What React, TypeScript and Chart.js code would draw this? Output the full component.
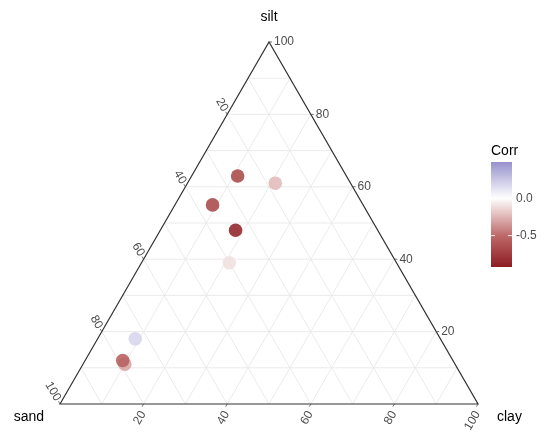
import React, { useEffect, useRef } from 'react';
import { Chart, registerables } from 'chart.js';

Chart.register(...registerables);

// Compositions (percent) and correlation value for each point
const sand = [26, 18, 36, 34, 40, 73, 79, 79];
const silt = [63, 61, 55, 48, 39, 18, 11, 12];
const clay = [11, 21, 9, 18, 21, 9, 10, 9];
const corr = [-0.66, -0.22, -0.66, -0.85, -0.1, 0.18, -0.3, -0.54];

const tickValues = [20, 40, 60, 80, 100];
const gridValues = [10, 20, 30, 40, 50, 60, 70, 80, 90];
const axisTitles = { left: 'sand', top: 'silt', right: 'clay' };

const legendTitle = 'Corr';
const legendBreaks = [0.0, -0.5];
const legendBreakLabels = ['0.0', '-0.5'];
const legendLimits = [-0.92, 0.485];

// colour scale stops (value, rgb)
const colourStopValues = [-0.92, -0.5, 0, 0.485];
const colourStopRgb = [
  [140, 28, 34],
  [190, 105, 105],
  [255, 255, 255],
  [150, 145, 205],
];

const FONT = "'Liberation Sans', Arial, Helvetica, sans-serif";

function colourFor(v: number, alpha = 1): string {
  const vs = colourStopValues;
  let i = 0;
  if (v <= vs[0]) i = 0;
  else if (v >= vs[vs.length - 1]) i = vs.length - 2;
  else {
    while (i < vs.length - 2 && v > vs[i + 1]) i++;
  }
  const t = Math.max(0, Math.min(1, (v - vs[i]) / (vs[i + 1] - vs[i])));
  const a = colourStopRgb[i];
  const b = colourStopRgb[i + 1];
  const c = a.map((x, k) => Math.round(x + (b[k] - x) * t));
  return `rgba(${c[0]},${c[1]},${c[2]},${alpha})`;
}

// ternary (sand, silt, clay) -> cartesian in unit triangle
function toXY(sa: number, si: number, cl: number) {
  const tot = sa + si + cl;
  const s = si / tot;
  const c = cl / tot;
  return { x: c + s / 2, y: s };
}

const ternaryPlugin = {
  id: 'ternary',
  beforeDatasetsDraw(chart: any) {
    const ctx = chart.ctx as CanvasRenderingContext2D;
    const xs = chart.scales.x;
    const ys = chart.scales.y;
    const P = (sa: number, si: number, cl: number) => {
      const p = toXY(sa, si, cl);
      return [xs.getPixelForValue(p.x), ys.getPixelForValue(p.y)];
    };
    const line = (a: number[], b: number[]) => {
      ctx.beginPath();
      ctx.moveTo(a[0], a[1]);
      ctx.lineTo(b[0], b[1]);
      ctx.stroke();
    };
    ctx.save();
    // grid
    ctx.strokeStyle = '#e9e9e9';
    ctx.lineWidth = 0.9;
    gridValues.forEach((g) => {
      line(P(100 - g, g, 0), P(0, g, 100 - g));
      line(P(g, 100 - g, 0), P(g, 0, 100 - g));
      line(P(100 - g, 0, g), P(0, 100 - g, g));
    });
    // border
    ctx.strokeStyle = '#333333';
    ctx.lineWidth = 1.2;
    const A = P(100, 0, 0);
    const B = P(0, 100, 0);
    const C = P(0, 0, 100);
    ctx.beginPath();
    ctx.moveTo(A[0], A[1]);
    ctx.lineTo(B[0], B[1]);
    ctx.lineTo(C[0], C[1]);
    ctx.closePath();
    ctx.stroke();

    // ticks & labels
    ctx.fillStyle = '#4d4d4d';
    ctx.strokeStyle = '#4d4d4d';
    ctx.lineWidth = 0.8;
    ctx.font = `12px ${FONT}`;
    const k = Math.sqrt(3) / 2;
    tickValues.forEach((t) => {
      // right edge: silt
      const r = P(0, t, 100 - t);
      line(r, [r[0] + 3, r[1]]);
      ctx.save();
      ctx.textAlign = 'left';
      ctx.textBaseline = 'middle';
      ctx.fillText(String(t), r[0] + 5, r[1]);
      ctx.restore();
      // left edge: sand
      const l = P(t, 100 - t, 0);
      line(l, [l[0] - 1.5, l[1] - 3 * k]);
      ctx.save();
      ctx.translate(l[0] - 2, l[1] - 3.8);
      ctx.rotate(Math.PI / 3);
      ctx.textAlign = 'right';
      ctx.textBaseline = 'middle';
      ctx.fillText(String(t), 0, 0);
      ctx.restore();
      // bottom edge: clay
      const b = P(100 - t, 0, t);
      line(b, [b[0] - 1.5, b[1] + 3 * k]);
      ctx.save();
      ctx.translate(b[0] - 0.5, b[1] + 8);
      ctx.rotate(-Math.PI / 3);
      ctx.textAlign = 'right';
      ctx.textBaseline = 'middle';
      ctx.fillText(String(t), 0, 0);
      ctx.restore();
    });

    // axis titles
    ctx.fillStyle = '#000000';
    ctx.font = `14px ${FONT}`;
    ctx.textBaseline = 'middle';
    ctx.textAlign = 'center';
    ctx.fillText(axisTitles.top, B[0], B[1] - 25);
    ctx.textAlign = 'right';
    ctx.fillText(axisTitles.left, A[0] - 16, A[1] + 13);
    ctx.textAlign = 'left';
    ctx.fillText(axisTitles.right, C[0] + 19, C[1] + 13);

    // colour bar
    const bx = 491;
    const bw = 21;
    const top = 162;
    const bottom = 267;
    const vy = (v: number) => bottom - ((v - legendLimits[0]) / (legendLimits[1] - legendLimits[0])) * (bottom - top);
    const grad = ctx.createLinearGradient(0, bottom, 0, top);
    for (let i = 0; i <= 40; i++) {
      const v = legendLimits[0] + ((legendLimits[1] - legendLimits[0]) * i) / 40;
      grad.addColorStop(i / 40, colourFor(v));
    }
    ctx.fillStyle = grad;
    ctx.fillRect(bx, top, bw, bottom - top);
    ctx.strokeStyle = 'rgba(255,255,255,0.9)';
    ctx.lineWidth = 1;
    legendBreaks.forEach((v) => {
      const y = vy(v);
      line([bx, y], [bx + 4, y]);
      line([bx + bw - 4, y], [bx + bw, y]);
    });
    ctx.fillStyle = '#000000';
    ctx.font = `14px ${FONT}`;
    ctx.textAlign = 'left';
    ctx.textBaseline = 'middle';
    ctx.fillText(legendTitle, bx, 151);
    ctx.fillStyle = '#4d4d4d';
    ctx.font = `12px ${FONT}`;
    legendBreaks.forEach((v, i) => {
      ctx.fillText(legendBreakLabels[i], bx + bw + 4, vy(v));
    });
    ctx.restore();
  },
};

export default function App() {
  const ref = useRef<HTMLCanvasElement | null>(null);
  useEffect(() => {
    document.body.style.margin = '0';
    const canvas = ref.current;
    if (!canvas) return;
    const points = sand.map((s, i) => toXY(s, silt[i], clay[i]));
    const chart = new Chart(canvas, {
      type: 'scatter',
      data: {
        datasets: [
          {
            data: points,
            backgroundColor: corr.map((v) => colourFor(v, 0.9)),
            borderWidth: 0,
            pointRadius: 6.8,
            pointHoverRadius: 6.8,
            clip: false as any,
          },
        ],
      },
      options: {
        responsive: false,
        animation: false,
        layout: { padding: { left: 60, right: 72, top: 42, bottom: 28 } },
        plugins: { legend: { display: false }, tooltip: { enabled: false } },
        scales: {
          x: { type: 'linear', min: 0, max: 1, display: false },
          y: { type: 'linear', min: 0, max: 1, display: false },
        },
      },
      plugins: [ternaryPlugin],
    });
    return () => chart.destroy();
  }, []);
  return (
    <div style={{ width: 550, height: 432, background: '#ffffff' }}>
      <canvas ref={ref} width={550} height={432} style={{ display: 'block' }} />
    </div>
  );
}
